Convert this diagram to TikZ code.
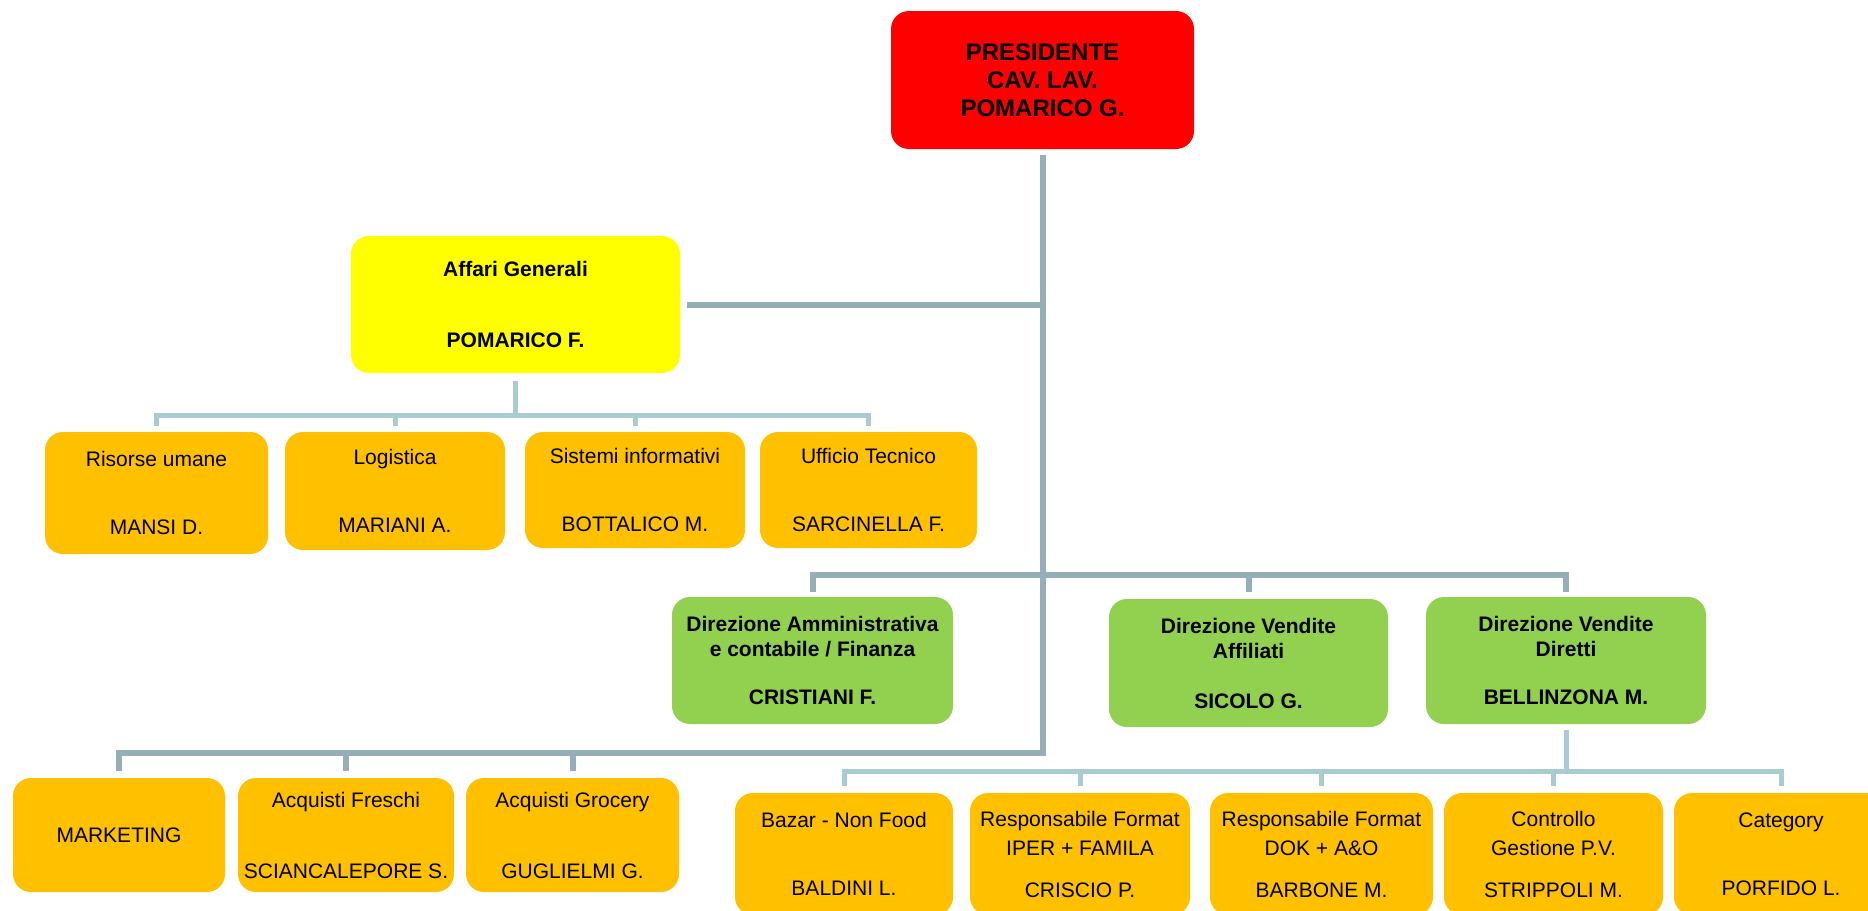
\documentclass[tikz,border=0pt]{standalone}
\usepackage{fontspec}
\setmainfont{Liberation Sans}
\definecolor{darkline}{HTML}{94AFB5}
\definecolor{lightline}{HTML}{A9CCD1}
\definecolor{orangebox}{HTML}{FFC000}
\definecolor{greenbox}{HTML}{92D050}
\definecolor{redbox}{HTML}{FF0000}
\definecolor{yellowbox}{HTML}{FFFF00}
\begin{document}
\begin{tikzpicture}[x=1pt,y=-1pt,
  box/.style={rounded corners=18pt, inner sep=0pt, align=center, text=black},
  presbox/.style={box, fill=redbox, font=\bfseries\fontsize{24}{28}\selectfont},
  agbox/.style={box, fill=yellowbox, font=\bfseries\fontsize{21}{25}\selectfont},
  dirbox/.style={box, fill=greenbox, font=\bfseries\fontsize{21}{25}\selectfont},
  unitbox/.style={box, fill=orangebox, font=\fontsize{21}{25}\selectfont},
  dark/.style={draw=darkline, line width=6pt},
  light/.style={draw=lightline, line width=5pt}]
\useasboundingbox (0,0) rectangle (1868,910);

% president
\node[presbox, minimum width=303pt, minimum height=138pt] (P) at (1042.5,80) {PRESIDENTE\\CAV. LAV.\\POMARICO G.};
% affari generali
\node[agbox, minimum width=329pt, minimum height=137pt] (AG) at (515.5,304.5) {Affari Generali\\[46pt]POMARICO F.};
% row 1 units
\node[unitbox, minimum width=223pt, minimum height=122pt] (R1) at (156.5,493) {Risorse umane\\[43pt]MANSI D.};
\node[unitbox, minimum width=220pt, minimum height=118pt] (R2) at (395,491) {Logistica\\[43pt]MARIANI A.};
\node[unitbox, minimum width=220pt, minimum height=116pt] (R3) at (635,490) {Sistemi informativi\\[43pt]BOTTALICO M.};
\node[unitbox, minimum width=217pt, minimum height=116pt] (R4) at (868.5,490) {Ufficio Tecnico\\[43pt]SARCINELLA F.};
% directions
\node[dirbox, minimum width=281pt, minimum height=127pt] (G1) at (812.5,660.5) {Direzione Amministrativa\\e contabile / Finanza\\[23pt]CRISTIANI F.};
\node[dirbox, minimum width=279pt, minimum height=128pt] (G2) at (1248.5,663) {Direzione Vendite\\Affiliati\\[25pt]SICOLO G.};
\node[dirbox, minimum width=280pt, minimum height=127pt] (G3) at (1566,660.5) {Direzione Vendite\\Diretti\\[23pt]BELLINZONA M.};
% bottom left
\node[unitbox, minimum width=212pt, minimum height=114pt] (B1) at (119,835) {MARKETING};
\node[unitbox, minimum width=216pt, minimum height=114pt] (B2) at (346,835) {Acquisti Freschi\\[46pt]SCIANCALEPORE S.};
\node[unitbox, minimum width=213pt, minimum height=114pt] (B3) at (572.5,835) {Acquisti Grocery\\[46pt]GUGLIELMI G.};
% bottom right
\node[unitbox, minimum width=218pt, minimum height=122pt] (C1) at (844,854) {Bazar - Non Food\\[43pt]BALDINI L.};
\node[unitbox, minimum width=220pt, minimum height=122pt] (C2) at (1080,854) {Responsabile Format\\[4pt]IPER + FAMILA\\[17pt]CRISCIO P.};
\node[unitbox, minimum width=223pt, minimum height=122pt] (C3) at (1321.5,854) {Responsabile Format\\[4pt]DOK + A\&O\\[17pt]BARBONE M.};
\node[unitbox, minimum width=219pt, minimum height=122pt] (C4) at (1553.5,854) {Controllo\\[4pt]Gestione P.V.\\[17pt]STRIPPOLI M.};
\node[unitbox, minimum width=214pt, minimum height=122pt] (C5) at (1781,854) {Category\\[43pt]PORFIDO L.};

% bar levels
\coordinate (barAG) at (0,415);
\coordinate (barG) at (0,575);
\coordinate (barB) at (0,753);
\coordinate (barC) at (0,771);

% trunk and bottom-left bar
\draw[dark] ([yshift=-6pt]P.south) |- (B1.north |- barB) -- ([yshift=7pt]B1.north);
\draw[dark] (B2.north |- barB) -- ([yshift=7pt]B2.north);
\draw[dark] (B3.north |- barB) -- ([yshift=7pt]B3.north);
% affari generali link
\draw[dark] ([xshift=7pt]AG.east) -- (AG.east -| P.south);
% directions bar
\draw[dark] ([yshift=5pt]G1.north) -- (G1.north |- barG) -- (G3.north |- barG) -- ([yshift=5pt]G3.north);
\draw[dark] (G2.north |- barG) -- ([yshift=7pt]G2.north);
% affari generali sub-units
\draw[light] ([yshift=-8pt]AG.south) -- (AG.south |- barAG);
\draw[light] ([yshift=6pt]R1.north) -- (R1.north |- barAG) -- (R4.north |- barAG) -- ([yshift=6pt]R4.north);
\draw[light] (R2.north |- barAG) -- ([yshift=6pt]R2.north);
\draw[light] (R3.north |- barAG) -- ([yshift=6pt]R3.north);
% diretti sub-units
\draw[light] ([yshift=-6pt]G3.south) -- (G3.south |- barC);
\draw[light] ([yshift=7pt]C1.north) -- (C1.north |- barC) -- (C5.north |- barC) -- ([yshift=7pt]C5.north);
\draw[light] (C2.north |- barC) -- ([yshift=7pt]C2.north);
\draw[light] (C3.north |- barC) -- ([yshift=7pt]C3.north);
\draw[light] (C4.north |- barC) -- ([yshift=7pt]C4.north);
\end{tikzpicture}
\end{document}
